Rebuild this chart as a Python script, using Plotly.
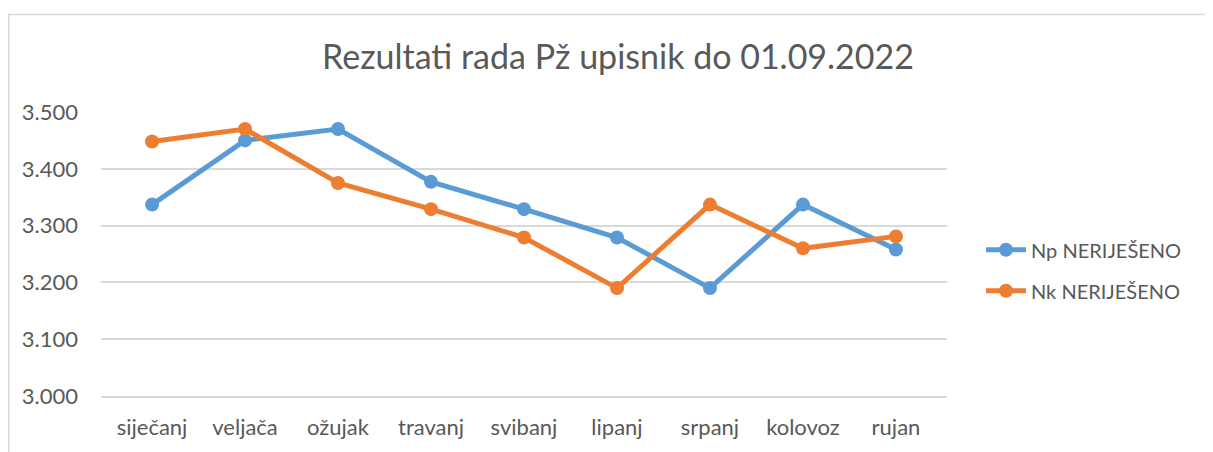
import plotly.graph_objects as go

months = ["siječanj", "veljača", "ožujak", "travanj", "svibanj", "lipanj", "srpanj", "kolovoz", "rujan"]
np_nerijeseno = [3337, 3450, 3470, 3377, 3329, 3279, 3190, 3337, 3258]
nk_nerijeseno = [3448, 3470, 3375, 3329, 3279, 3190, 3337, 3260, 3281]
y_ticks = [3000, 3100, 3200, 3300, 3400, 3500]

OFF = 8  # default body margin of the html page
W, H = 1213 - OFF, 452 - OFF
L, R, T, B = 101 - OFF, 947 - OFF, 111.7 - OFF, 399.3 - OFF

fig = go.Figure()
fig.add_trace(go.Scatter(x=months, y=np_nerijeseno, name="Np NERIJEŠENO", mode="lines+markers",
                         legendgroup="a",
                         line=dict(color="#5B9BD5", width=5), marker=dict(size=14, color="#5B9BD5")))
fig.add_trace(go.Scatter(x=months, y=nk_nerijeseno, name="Nk NERIJEŠENO", mode="lines+markers",
                         legendgroup="b",
                         line=dict(color="#ED7D31", width=5), marker=dict(size=14, color="#ED7D31")))

pw, ph = R - L, B - T
fig.add_shape(type="rect", xref="paper", yref="paper",
              x0=(0.8 - L) / pw, x1=2, y0=-2, y1=(B - (13 - OFF)) / ph,
              line=dict(color="#D9D9D9", width=1.5), fillcolor="rgba(0,0,0,0)", layer="below")

fig.update_layout(
    width=W, height=H,
    margin=dict(l=L, r=W - R, t=T, b=H - B),
    paper_bgcolor="white", plot_bgcolor="white",
    separators=",.",
    font=dict(family="Lato", size=22, color="#595959"),
    title=dict(text="Rezultati rada Pž upisnik do 01.09.2022", x=(618 - OFF) / W, xanchor="center",
               y=1 - (57 - OFF) / H, yanchor="middle", font=dict(family="Lato", size=34, color="#595959")),
    showlegend=True,
    legend=dict(x=(981 - OFF - L) / pw, xanchor="left", y=(B - (272 - OFF)) / ph, yanchor="middle",
                font=dict(size=20, color="#595959"), bgcolor="rgba(0,0,0,0)", itemwidth=40,
                traceorder="grouped", tracegroupgap=12),
    xaxis=dict(type="category", showgrid=False, showline=True, linecolor="#D9D9D9", linewidth=1.5,
               ticks="", tickfont=dict(size=22, color="#595959"), ticklabelstandoff=11, fixedrange=True),
    yaxis=dict(range=[3000, 3500], tickvals=y_ticks, tickformat=",d", showgrid=True,
               gridcolor="#D9D9D9", gridwidth=1.5, zeroline=False, showline=False, ticks="",
               tickfont=dict(size=22, color="#595959"), ticklabelstandoff=22),
)

fig.write_html("out.html")
